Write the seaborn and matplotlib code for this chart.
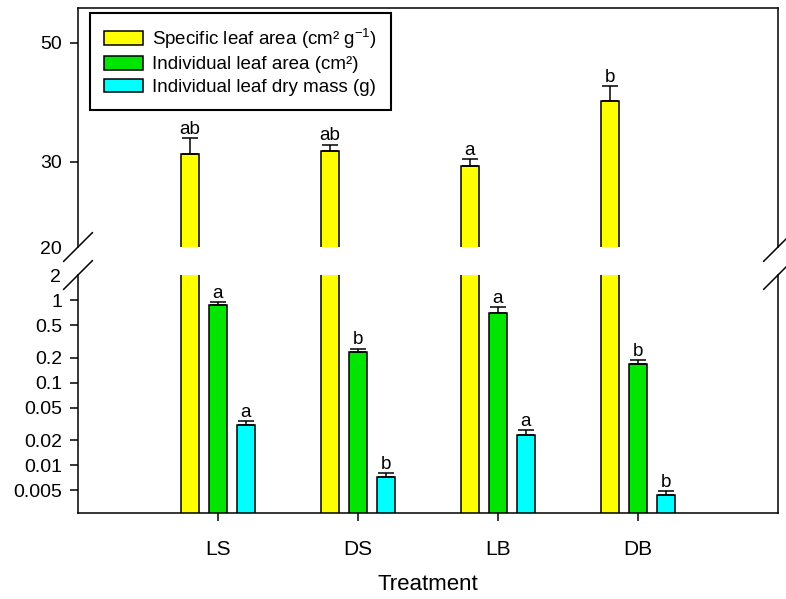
import numpy as np
import pandas as pd
import matplotlib
matplotlib.use("Agg")
import matplotlib.pyplot as plt
import seaborn as sns
from matplotlib.lines import Line2D
from matplotlib.patches import Patch
from matplotlib.ticker import FixedLocator, FixedFormatter, NullLocator

# ---------------- data ----------------
treatments = ["LS", "DS", "LB", "DB"]
series = ["Specific leaf area (cm² g$^{-1}$)",
          "Individual leaf area (cm²)",
          "Individual leaf dry mass (g)"]
colors = ["#FFFF00", "#00E600", "#00FFFF"]

sla = [31.0, 31.4, 29.4, 39.0]
sla_se = [2.2, 0.9, 0.95, 2.5]
ila = [0.88, 0.238, 0.708, 0.169]
ila_se = [0.075, 0.021, 0.12, 0.021]
ldm = [0.0305, 0.00724, 0.0235, 0.00436]
ldm_se = [0.0035, 0.0008, 0.003, 0.00055]

sla_letters = ["ab", "ab", "a", "b"]
ila_letters = ["a", "b", "a", "b"]
ldm_letters = ["a", "b", "a", "b"]

upper_ticks = [30, 50]
upper_tick_labels = ["30", "50"]
lower_ticks = [1, 0.5, 0.2, 0.1, 0.05, 0.02, 0.01, 0.005]
lower_tick_labels = ["1", "0.5", "0.2", "0.1", "0.05", "0.02", "0.01", "0.005"]

df = pd.DataFrame({
    "Treatment": treatments * 3,
    "Series": np.repeat(series, len(treatments)),
    "Value": sla + ila + ldm,
})
errors = [sla_se, ila_se, ldm_se]
letters = [sla_letters, ila_letters, ldm_letters]

# ---------------- style ----------------
sns.set_style("ticks")
plt.rcParams["font.family"] = ["Liberation Sans", "DejaVu Sans"]
plt.rcParams["mathtext.fontset"] = "custom"
plt.rcParams["mathtext.rm"] = "Liberation Sans"
plt.rcParams["mathtext.it"] = "Liberation Sans:italic"
plt.rcParams["mathtext.bf"] = "Liberation Sans:bold"
plt.rcParams["text.color"] = "black"
plt.rcParams["axes.labelcolor"] = "black"
plt.rcParams["xtick.color"] = "black"
plt.rcParams["ytick.color"] = "black"
FS = 14
LW = 1.1

W, H = 786, 599
fig = plt.figure(figsize=(W / 100, H / 100), dpi=100)
x0, x1 = 78, 778
up_top, up_bot = 8, 247
lo_top, lo_bot = 275, 512.7
ax_top = fig.add_axes([x0 / W, (H - up_bot) / H, (x1 - x0) / W, (up_bot - up_top) / H])
ax_bot = fig.add_axes([x0 / W, (H - lo_bot) / H, (x1 - x0) / W, (lo_bot - lo_top) / H])

for ax in (ax_top, ax_bot):
    ax.set_yscale("log")
    sns.barplot(data=df, x="Treatment", y="Value", hue="Series",
                order=treatments, hue_order=series, palette=colors,
                saturation=1, width=0.6, gap=0.385, errorbar=None,
                edgecolor="black", linewidth=LW, legend=False, ax=ax)
    ax.set_xlim(-1, 4)
    ax.yaxis.set_minor_locator(NullLocator())
    for s in ax.spines.values():
        s.set_linewidth(LW)
        s.set_color("black")
    ax.tick_params(axis="both", which="major", direction="out", length=5.5,
                   width=LW, labelsize=FS, color="black", labelcolor="black",
                   pad=6)
    ax.set_ylabel("")

# upper axis
ax_top.set_ylim(20.8, 58.1)
ax_top.yaxis.set_major_locator(FixedLocator(upper_ticks))
ax_top.yaxis.set_major_formatter(FixedFormatter(upper_tick_labels))
ax_top.yaxis.set_minor_locator(FixedLocator([20.8]))
ax_top.yaxis.set_minor_formatter(FixedFormatter(["20"]))
ax_top.tick_params(axis="y", which="minor", length=0, labelsize=FS,
                   labelcolor="black", pad=12)
ax_top.spines["bottom"].set_visible(False)
ax_top.tick_params(axis="x", bottom=False, labelbottom=False)
ax_top.set_xlabel("")

# lower axis
ax_bot.set_ylim(0.00266, 2.02)
ax_bot.yaxis.set_major_locator(FixedLocator(lower_ticks))
ax_bot.yaxis.set_major_formatter(FixedFormatter(lower_tick_labels))
ax_bot.yaxis.set_minor_locator(FixedLocator([2.0]))
ax_bot.yaxis.set_minor_formatter(FixedFormatter(["2"]))
ax_bot.tick_params(axis="y", which="minor", length=0, labelsize=FS,
                   labelcolor="black", pad=12)
ax_bot.spines["top"].set_visible(False)
ax_bot.tick_params(axis="x", pad=14, labelsize=15)
ax_bot.set_xlabel("Treatment", fontsize=16, labelpad=11, color="black")

# error bars and letters
def annotate(ax, idx):
    cont = ax.containers[idx]
    xs = [p.get_x() + p.get_width() / 2 for p in cont]
    ys = [p.get_height() for p in cont]
    err = errors[idx]
    ax.errorbar(xs, ys, yerr=[np.zeros(len(err)), err], fmt="none",
                ecolor="black", elinewidth=LW, capsize=5.8, capthick=LW,
                zorder=3)
    for x, y, e, t in zip(xs, ys, err, letters[idx]):
        ax.annotate(t, (x, y + e), xytext=(0, 3), textcoords="offset points",
                    ha="center", va="baseline", fontsize=FS - 0.5,
                    color="black")

annotate(ax_top, 0)
annotate(ax_bot, 1)
annotate(ax_bot, 2)

# legend
handles = [Patch(facecolor=c, edgecolor="black", linewidth=LW, label=s)
           for c, s in zip(colors, series)]
leg = ax_top.legend(handles=handles, loc="upper left",
                    bbox_to_anchor=((90 - x0) / (x1 - x0), 1 - (13 - up_top) / (up_bot - up_top)),
                    borderaxespad=0, fontsize=13.5, frameon=True, fancybox=False,
                    edgecolor="black", borderpad=0.72, labelspacing=0.3,
                    handlelength=2.1, handleheight=0.72, handletextpad=0.5)
leg.get_frame().set_linewidth(1.5)
leg.get_frame().set_alpha(1)

# break marks
dx, dy = 14.5 / W, 14.5 / H
for xp in (x0, x1):
    for yp in (up_bot, lo_top):
        cx, cy = xp / W, (H - yp) / H
        fig.add_artist(Line2D([cx - dx, cx + dx], [cy - dy, cy + dy],
                              transform=fig.transFigure, color="black", lw=LW))

fig.savefig("out.png", dpi=100)
